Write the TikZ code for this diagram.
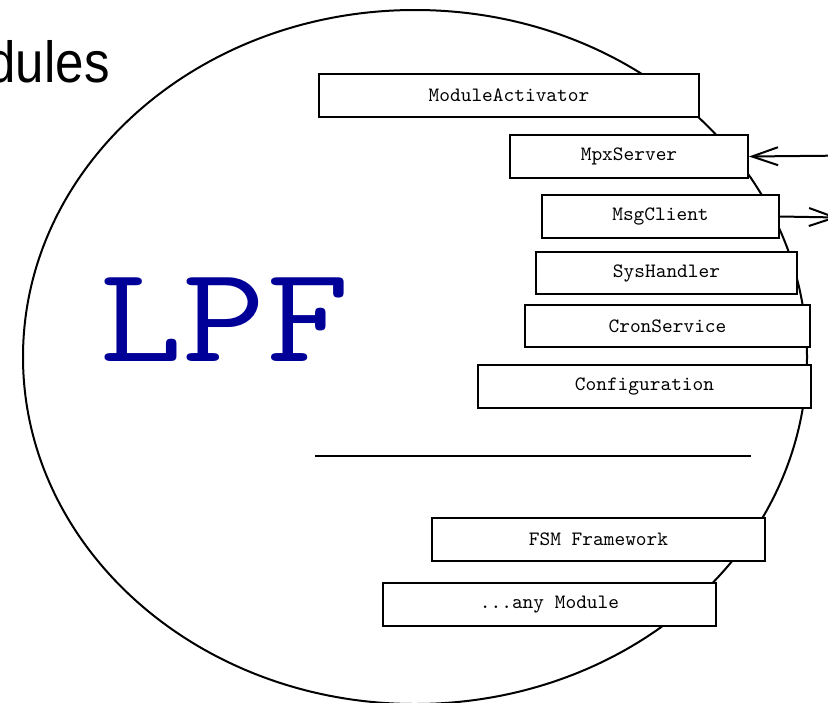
\documentclass[tikz,border=0pt]{standalone}
\usepackage{fontspec}
\usepackage{graphicx}
\setmainfont{Liberation Sans}
\usetikzlibrary{arrows.meta}
\definecolor{cLpf}{RGB}{0,0,153}
\definecolor{cEdge}{RGB}{0,0,0}
\tikzset{
  modbox/.style={
    rectangle, draw=cEdge, line width=1pt, fill=white,
    anchor=north west, inner sep=0pt, align=center,
    font=\ttfamily\fontsize{10.2}{11}\selectfont,
    minimum height=21.5pt,
  },
  title/.style={font=\fontsize{29}{32}\selectfont, anchor=base east, inner sep=0pt},
  big/.style={font=\ttfamily\fontsize{68.5}{72}\selectfont, text=cLpf, anchor=base, inner sep=0pt},
  arr/.style={-{Straight Barb[length=13pt,width=9pt]}, line width=1pt, draw=cEdge},
}

\begin{document}
\begin{tikzpicture}[x=0.5pt, y=-0.5pt]
\useasboundingbox (0,0) rectangle (828,702);

% ===== heading and framework outline =====
\node[title] (head) at (110,82) {\scalebox{0.88}[1]{dules}};
\draw[line width=1pt, draw=cEdge] (415,357) ellipse [x radius=196pt, y radius=173.5pt];
\node[big] (lpf) at (224.5,361) {\scalebox{1.18}[1]{LPF}};

% ===== core modules =====
\node[modbox, minimum width=190pt] (act) at (318,73) {ModuleActivator};
\node[modbox, minimum width=119pt] (mpx) at (509,134) {MpxServer};
\node[modbox, minimum width=118.5pt] (msg) at (541,194) {MsgClient};
\node[modbox, minimum width=130.5pt, minimum height=21pt] (sys) at (535,251) {SysHandler};
\node[modbox, minimum width=142.5pt, minimum height=21pt] (cron) at (524,304) {CronService};
\node[modbox, minimum width=166.5pt] (conf) at (477,364) {Configuration};

% ===== separator =====
\coordinate (sepL) at (315,456);
\coordinate (sepR) at (751,456);
\draw[line width=1pt, draw=cEdge] (sepL) -- (sepR);

% ===== further modules =====
\node[modbox, minimum width=166.5pt] (fsm) at (431,517) {FSM Framework};
\node[modbox, minimum width=166.5pt] (any) at (382,582) {...any Module};

% ===== arrows =====
\coordinate (mpxIn) at (850,155.5);
\coordinate (msgOut) at (838,217.5);
\draw[arr] (mpxIn) -- (mpx.east);
\draw[arr] (msg.east) -- (msgOut);

\end{tikzpicture}
\end{document}
